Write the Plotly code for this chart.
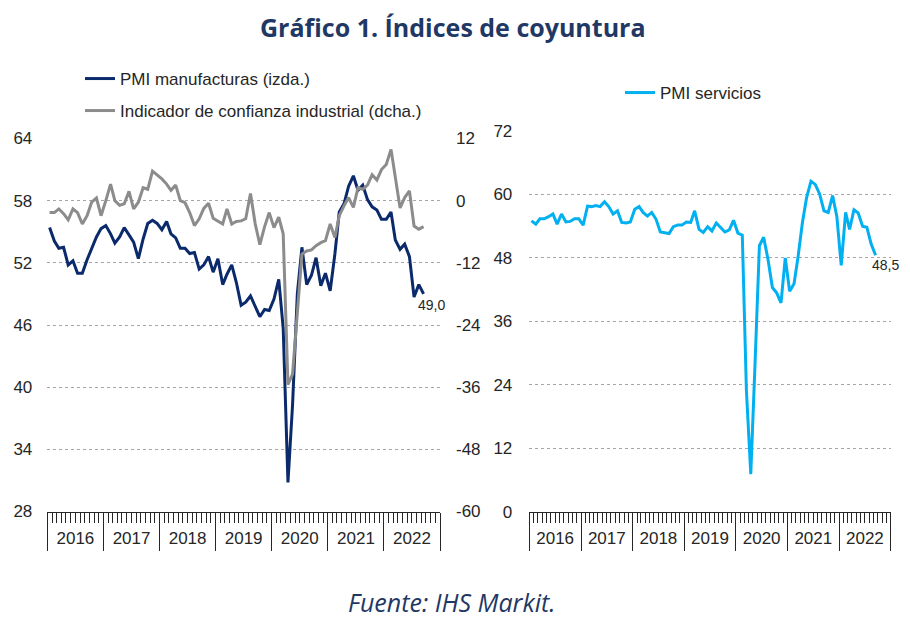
import pandas as pd
import plotly.graph_objects as go

# ---------------- data ----------------
start_month = "2016-01-01"
n_months = 81  # Jan 2016 - Sep 2022
years = ["2016", "2017", "2018", "2019", "2020", "2021", "2022"]

pmi_manufacturas = [
    55.4, 54.1, 53.4, 53.5, 51.8, 52.2, 51.0, 51.0, 52.3, 53.3, 54.5, 55.3,
    55.6, 54.8, 53.9, 54.5, 55.4, 54.7, 54.0, 52.4, 54.3, 55.8, 56.1, 55.8,
    55.2, 56.0, 54.8, 54.4, 53.4, 53.4, 52.9, 53.0, 51.4, 51.8, 52.6, 51.1,
    52.4, 49.9, 50.9, 51.8, 50.1, 47.9, 48.2, 48.8, 47.7, 46.8, 47.5, 47.4,
    48.5, 50.4, 45.7, 30.8, 38.3, 49.0, 53.5, 49.9, 50.8, 52.5, 49.8, 51.0,
    49.3, 52.9, 56.9, 57.7, 59.4, 60.4, 59.0, 59.5, 58.1, 57.4, 57.1, 56.2,
    56.2, 56.9, 54.2, 53.3, 53.8, 52.6, 48.7, 49.9, 49.0,
]

confianza_industrial = [
    -2.3, -2.3, -1.6, -2.5, -3.7, -1.6, -2.3, -4.5, -2.9, -0.3, 0.5, -2.9,
    0.0, 3.2, 0.0, -0.9, -0.6, 1.8, -1.6, -0.3, 2.5, 2.2, 5.7, 5.0,
    4.2, 3.2, 2.0, 3.0, 0.0, -0.4, -2.3, -4.8, -3.5, -1.5, -0.5, -3.4,
    -4.0, -4.5, -1.6, -4.5, -4.0, -3.9, -3.5, 1.4, -4.5, -8.5, -5.0, -2.3,
    -5.2, -3.2, -6.4, -35.5, -33.5, -21.0, -10.3, -9.7, -9.5, -8.7, -8.1, -7.7,
    -4.5, -7.1, -2.9, -1.0, 0.6, -1.3, 2.5, 2.2, 3.0, 5.0, 4.0, 6.0,
    7.0, 9.9, 4.5, -1.4, 0.6, 1.9, -4.9, -5.5, -5.0,
]

pmi_servicios = [
    55.0, 54.4, 55.4, 55.4, 55.8, 56.3, 54.4, 56.3, 54.8, 54.9, 55.4, 55.4,
    54.2, 57.8, 57.7, 57.9, 57.7, 58.6, 57.7, 56.3, 56.9, 54.7, 54.6, 54.8,
    57.2, 57.7, 56.6, 55.9, 56.6, 55.3, 52.9, 52.8, 52.6, 53.9, 54.2, 54.2,
    54.8, 54.7, 56.9, 53.4, 52.8, 53.9, 53.1, 54.6, 53.8, 52.9, 53.3, 55.1,
    52.7, 52.3, 23.0, 7.1, 27.9, 50.3, 51.9, 47.7, 42.4, 41.4, 39.5, 48.0,
    41.7, 43.1, 48.1, 54.6, 59.4, 62.5, 61.9, 60.1, 56.9, 56.6, 59.8, 55.8,
    46.6, 56.6, 53.4, 57.1, 56.5, 54.0, 53.8, 50.6, 48.5,
]

ticks_izda = [28, 34, 40, 46, 52, 58, 64]
ticks_dcha = [-60, -48, -36, -24, -12, 0, 12]
ticks_serv = [0, 12, 24, 36, 48, 60, 72]

title_text = "Gráfico 1. Índices de coyuntura"
source_text = "Fuente: IHS Markit."
name_manuf = "PMI manufacturas (izda.)"
name_conf = "Indicador de confianza industrial (dcha.)"
name_serv = "PMI servicios"

# ---------------- styling ----------------
W, H = 910, 620
OFF = 8  # page body margin offset of the figure div
C_NAVY = "#0B2A6C"
C_GRAY = "#8C8C8C"
C_CYAN = "#00B0F0"
C_TEXT = "#262626"
C_TITLE = "#1F3864"
SANS = "Liberation Sans, Arial, sans-serif"
AX_FONT = dict(family=SANS, size=17, color=C_TEXT)

dates = pd.date_range(start_month, periods=n_months, freq="MS") + pd.Timedelta(days=15)
x_range = [pd.Timestamp(start_month), pd.Timestamp(f"{int(years[-1]) + 1}-01-01")]


def px_x(p):
    return (p - OFF) / W


def px_y(p):
    return 1 - (p - OFF) / H


def yticks(vals):
    return dict(tickmode="array", tickvals=vals, ticktext=[str(v) for v in vals],
                range=[vals[0], vals[-1]])


fig = go.Figure()
fig.add_trace(go.Scatter(x=dates, y=pmi_manufacturas, name=name_manuf, mode="lines",
                         line=dict(color=C_NAVY, width=3), xaxis="x", yaxis="y",
                         legend="legend"))
fig.add_trace(go.Scatter(x=dates, y=confianza_industrial, name=name_conf, mode="lines",
                         line=dict(color=C_GRAY, width=3), xaxis="x", yaxis="y2",
                         legend="legend2"))
fig.add_trace(go.Scatter(x=dates, y=pmi_servicios, name=name_serv, mode="lines",
                         line=dict(color=C_CYAN, width=3), xaxis="x2", yaxis="y3",
                         legend="legend3"))

xcommon = dict(
    type="date", range=x_range, showgrid=False, zeroline=False, automargin=False,
    showline=True, linecolor=C_TEXT, linewidth=1,
    ticks="outside", ticklen=38, tickwidth=1, tickcolor=C_TEXT,
    dtick="M12", tick0=start_month, tickformat="%Y", ticklabelmode="period",
    ticklabelstandoff=-27,
    tickfont=dict(family=SANS, size=17, color=C_TEXT),
    minor=dict(ticks="outside", ticklen=10, tickwidth=1, tickcolor=C_TEXT,
               dtick="M1", tick0=start_month, showgrid=False),
    fixedrange=True,
)
grid = dict(showgrid=True, gridcolor="#A6A6A6", griddash="dot", gridwidth=1)

fig.update_layout(
    width=W, height=H,
    margin=dict(l=0, r=0, t=0, b=0, autoexpand=False),
    paper_bgcolor="white", plot_bgcolor="white",
    showlegend=True,
    xaxis=dict(domain=[px_x(47.3), px_x(440)], anchor="y", **xcommon),
    yaxis=dict(domain=[px_y(511.5), px_y(138.5)], anchor="x", **yticks(ticks_izda),
               zeroline=False, showline=False, ticks="", automargin=False,
               ticklabelstandoff=14, tickfont=AX_FONT, **grid),
    yaxis2=dict(overlaying="y", side="right", anchor="x", **yticks(ticks_dcha),
                showgrid=False, zeroline=False, showline=False, ticks="", automargin=False,
                ticklabelstandoff=15, tickfont=AX_FONT),
    xaxis2=dict(domain=[px_x(529.3), px_x(890.7)], anchor="y3", **xcommon),
    yaxis3=dict(domain=[px_y(511.7), px_y(131)], anchor="x2", **yticks(ticks_serv),
                zeroline=False, showline=False, ticks="", automargin=False,
                ticklabelstandoff=16, tickfont=AX_FONT, **grid),
    legend=dict(x=px_x(80), y=px_y(79), xanchor="left", yanchor="middle",
                bgcolor="rgba(0,0,0,0)", font=dict(family=SANS, size=17, color=C_TEXT)),
    legend2=dict(x=px_x(80), y=px_y(111), xanchor="left", yanchor="middle",
                 bgcolor="rgba(0,0,0,0)", font=dict(family=SANS, size=17, color=C_TEXT)),
    legend3=dict(x=px_x(620), y=px_y(93), xanchor="left", yanchor="middle",
                 bgcolor="rgba(0,0,0,0)", font=dict(family=SANS, size=17, color=C_TEXT)),
)

annotations = [
    dict(text=f"<b>{title_text}</b>", xref="paper", yref="paper", x=px_x(453), y=px_y(27),
         xanchor="center", yanchor="middle", showarrow=False,
         font=dict(family="Open Sans, Noto Sans, sans-serif", size=25, color=C_TITLE)),
    dict(text=f"<i>{source_text}</i>", xref="paper", yref="paper", x=px_x(452), y=px_y(602),
         xanchor="center", yanchor="middle", showarrow=False,
         font=dict(family="Open Sans, Noto Sans, sans-serif", size=25, color=C_TITLE)),
    dict(text=f"{pmi_manufacturas[-1]:.1f}".replace(".", ","), xref="x", yref="y",
         x=dates[-1], y=pmi_manufacturas[-1], xshift=8, yshift=-11, showarrow=False,
         font=dict(family=SANS, size=14, color=C_TEXT)),
    dict(text=f"{pmi_servicios[-1]:.1f}".replace(".", ","), xref="x2", yref="y3",
         x=dates[-1], y=pmi_servicios[-1], xshift=10, yshift=-10, showarrow=False,
         font=dict(family=SANS, size=14, color=C_TEXT)),
]
fig.update_layout(annotations=annotations)

fig.write_html("out.html")
